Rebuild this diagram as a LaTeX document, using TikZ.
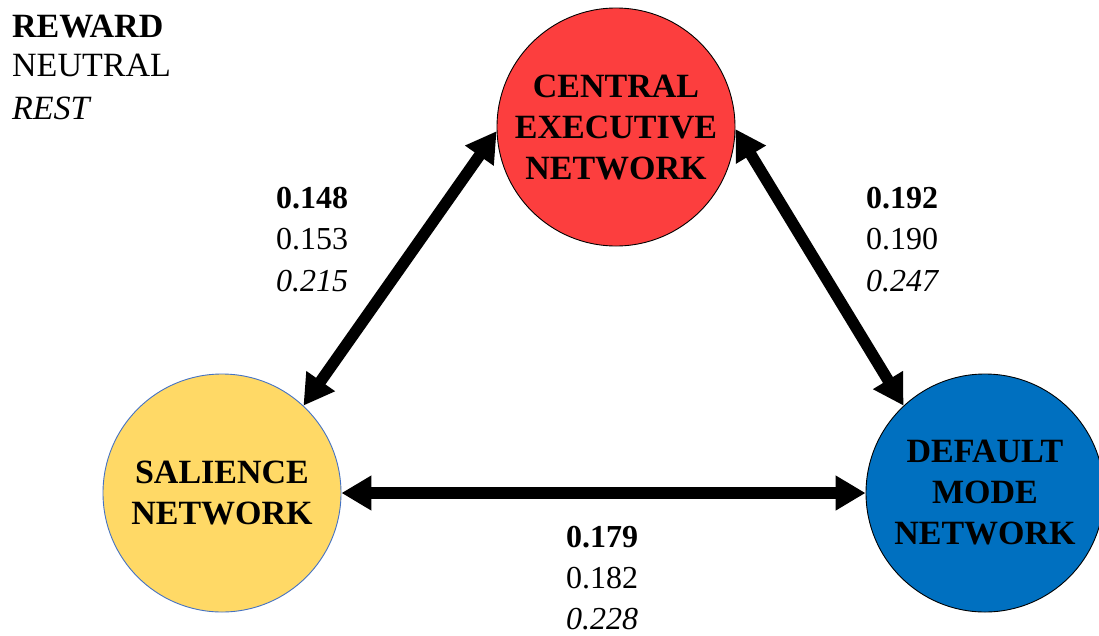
\documentclass[tikz,border=0pt]{standalone}
\usepackage{fontspec}
\setmainfont{Liberation Serif}
\usetikzlibrary{arrows.meta}
\definecolor{cenred}{RGB}{252,62,62}
\definecolor{snyellow}{RGB}{255,217,102}
\definecolor{snedge}{RGB}{68,114,196}
\definecolor{dmnblue}{RGB}{0,112,192}
\tikzset{
  net/.style={circle, minimum size=238pt, inner sep=0pt, line width=0.9pt, align=center,
    font=\fontsize{34}{41}\selectfont\bfseries, text=black},
  bigarrow/.style={line width=11.5pt, {Triangle[length=30pt,width=33pt]}-{Triangle[length=30pt,width=33pt]}},
  legend/.style={anchor=base west, inner sep=0pt, font=\fontsize{34}{41}\selectfont},
  num/.style={anchor=base, inner sep=0pt, font=\fontsize{32}{40}\selectfont}
}
\begin{document}
\begin{tikzpicture}[x=1pt,y=-1pt]
\useasboundingbox (0,0) rectangle (1099,635);
\fill[white] (0,0) rectangle (1099,635);
% networks
\node[net, draw=black, fill=cenred] (cen) at (616,127) {CENTRAL\\EXECUTIVE\\NETWORK};
\node[net, draw=snedge, fill=snyellow] (sn) at (222,493) {SALIENCE\\NETWORK};
\node[net, draw=black, fill=dmnblue] (dmn) at (985,493) {DEFAULT\\MODE\\NETWORK};
% connectors
\draw[bigarrow] (sn.47) -- (cen.182);
\draw[bigarrow] (cen.-1) -- (dmn.133);
\draw[bigarrow] (sn.east) -- (dmn.west);
% legend
\node[legend] (lg1) at (12,37) {\bfseries REWARD};
\node[legend] (lg2) at (12,76) {NEUTRAL};
\node[legend] (lg3) at (12,119) {\itshape REST};
% values SN-CEN
\node[num] (a1) at (312,208) {\bfseries 0.148};
\node[num] (a2) at (312,249.5) {0.153};
\node[num] (a3) at (312,291) {\itshape 0.215};
% values CEN-DMN
\node[num] (b1) at (902,208) {\bfseries 0.192};
\node[num] (b2) at (902,249.5) {0.190};
\node[num] (b3) at (902,291) {\itshape 0.247};
% values SN-DMN
\node[num] (c1) at (602,547) {\bfseries 0.179};
\node[num] (c2) at (602,588) {0.182};
\node[num] (c3) at (602,629) {\itshape 0.228};
\end{tikzpicture}
\end{document}
